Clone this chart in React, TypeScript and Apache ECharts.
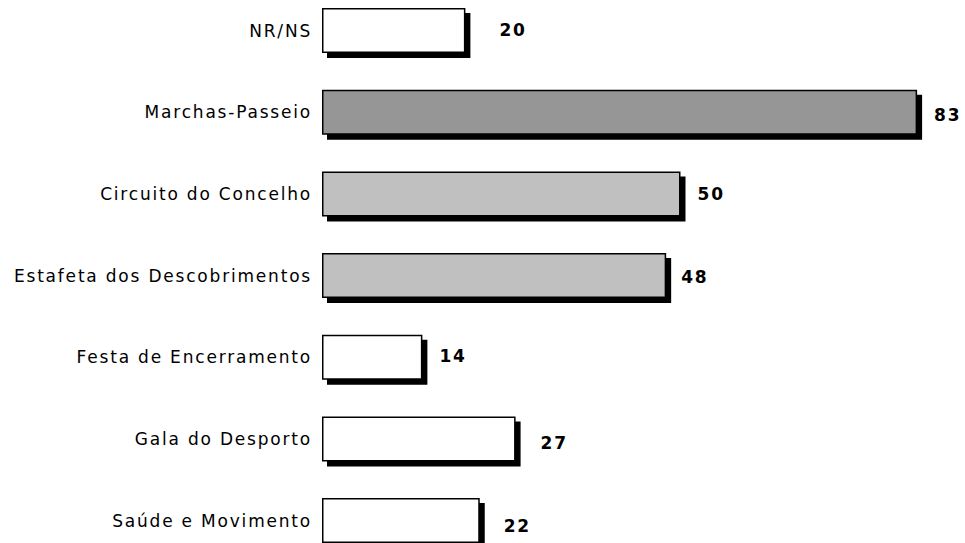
import React, { useEffect, useRef } from "react";
import * as echarts from "echarts";

// Categories from top to bottom
const categories = [
  "NR/NS",
  "Marchas-Passeio",
  "Circuito do Concelho",
  "Estafeta dos Descobrimentos",
  "Festa de Encerramento",
  "Gala do Desporto",
  "Saúde e Movimento",
];

const values = [20, 83, 50, 48, 14, 27, 22];

// Fill per bar: highlighted activities in grey
const fills = ["#ffffff", "#969696", "#c0c0c0", "#c0c0c0", "#ffffff", "#ffffff", "#ffffff"];

// Nudges for each value label [dx, dy] from the bar end
const labelNudges: [number, number][] = [
  [34, -1],
  [17, 3],
  [17, 0],
  [15, 1],
  [17, -1],
  [25, 4],
  [24, 5],
];

export default function App() {
  const ref = useRef<HTMLDivElement>(null);

  useEffect(() => {
    if (!ref.current) return;
    const chart = echarts.init(ref.current, null, { renderer: "svg" });
    chart.setOption({
      animation: false,
      backgroundColor: "#ffffff",
      grid: {
        left: 322,
        top: -10.3,
        width: 717,
        height: 571.7,
        outerBoundsMode: "none",
        containLabel: false,
      },
      xAxis: {
        type: "value",
        min: 0,
        max: 100,
        show: false,
      },
      yAxis: {
        type: "category",
        inverse: true,
        data: categories,
        axisLine: { show: false },
        axisTick: { show: false },
        splitLine: { show: false },
        axisLabel: {
          margin: 10,
          color: "#000000",
          fontFamily: "DejaVu Sans",
          fontSize: 17,
        },
      },
      series: [
        {
          type: "bar",
          barWidth: 45,
          data: values.map((v, i) => ({
            value: v,
            itemStyle: { color: fills[i] },
            label: { offset: labelNudges[i] },
          })),
          itemStyle: {
            borderColor: "#000000",
            borderWidth: 1.5,
            shadowColor: "#000000",
            shadowBlur: 0,
            shadowOffsetX: 5,
            shadowOffsetY: 5,
          },
          label: {
            show: true,
            position: "right",
            distance: 0,
            color: "#000000",
            fontFamily: "DejaVu Sans",
            fontWeight: "bold",
            fontSize: 17,
          },
        },
      ],
    });
    return () => chart.dispose();
  }, []);

  return (
    <>
      <style>{`#chart svg text { letter-spacing: 1.8px; }`}</style>
      <div
        id="chart"
        ref={ref}
        style={{ position: "fixed", left: 0, top: 0, width: 965, height: 543 }}
      />
    </>
  );
}
